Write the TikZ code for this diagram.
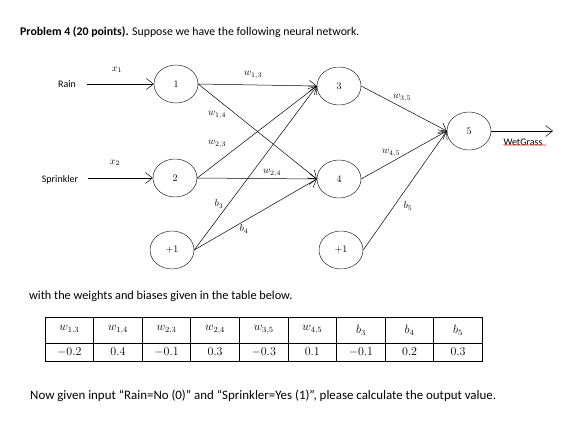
\documentclass[tikz,border=0pt]{standalone}
\usepackage{fontspec}
\setmainfont{Carlito}
\usetikzlibrary{arrows.meta,shapes.geometric,decorations.pathmorphing}

\begin{document}
\begin{tikzpicture}[x=1pt, y=-1pt,
  neuron/.style={draw, ellipse, minimum width=44pt, minimum height=38pt, inner sep=0pt, font=\normalsize},
  wire/.style={draw, -{Straight Barb[length=7pt,width=11pt]}, line width=0.5pt},
  lbl/.style={inner sep=1pt, font=\normalsize},
  word/.style={inner sep=0pt, font=\fontsize{10}{12}\selectfont},
  para/.style={inner sep=0pt, anchor=base west, font=\fontsize{11.8}{14}\selectfont},
  cell/.style={draw, line width=0.9pt, minimum width=48.6pt, inner sep=0pt, font=\fontsize{11.5}{13}\selectfont}]
\useasboundingbox (0,0) rectangle (585,422);

% texts of the problem
\node[para] (title) at (20,36) {\textbf{Problem 4 (20 points).} Suppose we have the following neural network.};
\node[para, font=\fontsize{12.3}{14}\selectfont] (given) at (29,299) {with the weights and biases given in the table below.};
\node[para, font=\fontsize{12.9}{14}\selectfont] (task) at (30,399) {Now given input “Rain=No (0)” and “Sprinkler=Yes (1)”, please calculate the output value.};

% neurons
\node[neuron] (n1) at (176,84) {$1$};
\node[neuron] (n2) at (175,178) {$2$};
\node[neuron] (n3) at (339,86) {$3$};
\node[neuron] (n4) at (339,179) {$4$};
\node[neuron] (n5) at (469,131) {$5$};
\node[neuron] (bias1) at (172,250) {$+1$};
\node[neuron] (bias2) at (341,250) {$+1$};

% inputs and output
\node[word] (rain) at (67,84) {Rain};
\node[word] (sprinkler) at (60,180) {Sprinkler};
\node[word] (wetgrass) at (523,142) {WetGrass};
\coordinate (in1) at (87,84);
\coordinate (in2) at (88,178);
\coordinate (out) at (553,131);
\draw[wire] (in1) -- (n1.west);
\draw[wire] (in2) -- (n2.west);
\draw[wire] (n5.east) -- (out);
\draw[red!80, line width=0.4pt, decorate, decoration={snake, amplitude=0.6pt, segment length=2pt}]
  (wetgrass.south west) ++(0,-0.5) -- ++(43,0);

% connections
\draw[wire] (n1.east) -- (n3.west);
\draw[wire] (n1.east) -- (n4.west);
\draw[wire] (n2.east) -- (n3.west);
\draw[wire] (n2.east) -- (n4.west);
\draw[wire] (bias1.east) -- (n3.west);
\draw[wire] (bias1.east) -- (n4.west);
\draw[wire] (n3.east) -- (n5.west);
\draw[wire] (n4.east) -- (n5.west);
\draw[wire] (bias2.east) -- (n5.west);

% weight labels
\node[lbl] (x1) at (117,70) {$x_1$};
\node[lbl] (x2) at (115,163) {$x_2$};
\node[lbl] (w13) at (253,75) {$w_{1,3}$};
\node[lbl] (w14) at (217,115) {$w_{1,4}$};
\node[lbl] (w23) at (217,144) {$w_{2,3}$};
\node[lbl] (w24) at (272,173) {$w_{2,4}$};
\node[lbl] (w35) at (402,98) {$w_{3,5}$};
\node[lbl] (w45) at (391,153) {$w_{4,5}$};
\node[lbl] (b3) at (219,204) {$b_3$};
\node[lbl] (b4) at (244,229) {$b_4$};
\node[lbl] (b5) at (408,206) {$b_5$};

% table of weights and biases
\foreach \h/\v [count=\i] in {{w_{1,3}}/{-0.2}, {w_{1,4}}/{0.4}, {w_{2,3}}/{-0.1}, {w_{2,4}}/{0.3},
    {w_{3,5}}/{-0.3}, {w_{4,5}}/{0.1}, {b_3}/{-0.1}, {b_4}/{0.2}, {b_5}/{0.3}} {
  \node[cell, minimum height=26pt] (head\i) at ({45+48.6*(\i-0.5)},330) {$\h$};
  \node[cell, minimum height=18pt] (val\i) at ({45+48.6*(\i-0.5)},352) {$\v$};
}
\end{tikzpicture}
\end{document}
